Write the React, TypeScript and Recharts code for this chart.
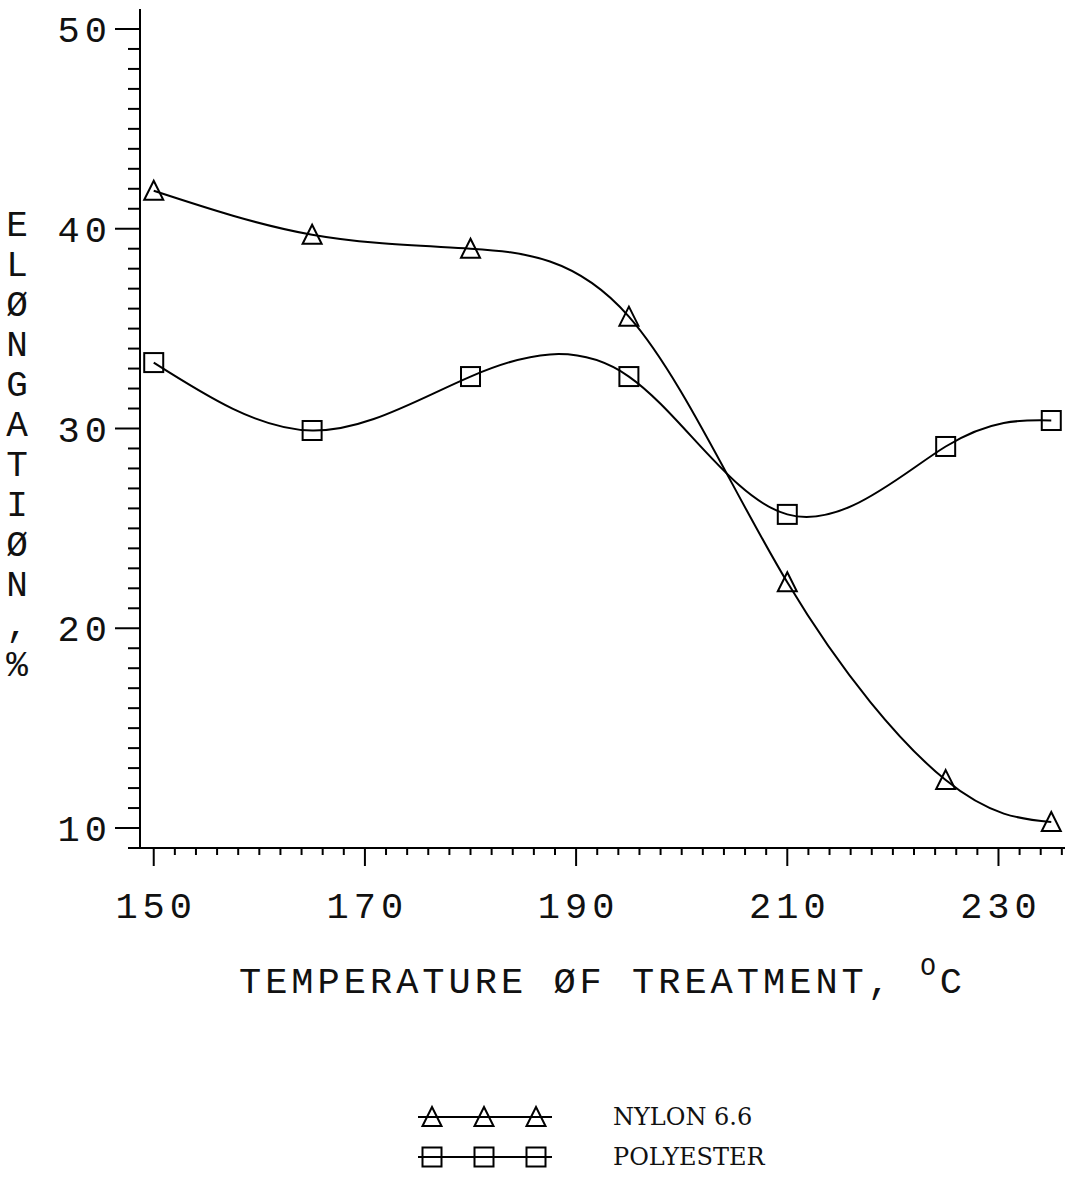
import React from 'react';
import { LineChart, Line, XAxis, YAxis, Legend, Label } from 'recharts';

// plotter-style lettering for axes, typewriter-style for the key
const PLOT_FONT = '"Liberation Mono", "DejaVu Sans Mono", monospace';
const KEY_FONT = '"DejaVu Serif", "Liberation Serif", serif';
const INK = '#111';

const temperatures = [150, 165, 180, 195, 210, 225, 235];
const nylonElongation = [41.9, 39.7, 39.0, 35.6, 22.3, 12.4, 10.3];
const polyesterElongation = [33.3, 29.9, 32.6, 32.6, 25.7, 29.1, 30.4];

const xLabelTicks = [150, 170, 190, 210, 230];
const yLabelTicks = [10, 20, 30, 40, 50];
const yTitleChars = ['E', 'L', 'Ø', 'N', 'G', 'A', 'T', 'I', 'Ø', 'N', ',', '%'];
const xTitle = 'TEMPERATURE ØF TREATMENT, ';
const xTitleUnitSup = 'O';
const xTitleUnit = 'C';

const series = [
  { key: 'nylon', name: 'NYLON 6.6', shape: 'triangle' },
  { key: 'polyester', name: 'POLYESTER', shape: 'square' },
];

const chartData = temperatures.map((t, i) => ({
  temp: t,
  nylon: nylonElongation[i],
  polyester: polyesterElongation[i],
}));

const range = (from: number, to: number, step: number) => {
  const out: number[] = [];
  for (let v = from; v <= to; v += step) out.push(v);
  return out;
};

// minor tick every 2 degrees, every 1 %
const xTicks = range(150, 236, 2);
const yTicks = range(9, 50, 1);

const Marker = ({ shape, cx, cy }: { shape: string; cx: number; cy: number }) => {
  if (shape === 'triangle') {
    return (
      <path
        d={`M${cx},${cy - 10} L${cx + 9.5},${cy + 9} L${cx - 9.5},${cy + 9} Z`}
        fill="none"
        stroke="#000"
        strokeWidth={2}
      />
    );
  }
  return <rect x={cx - 9.5} y={cy - 9.5} width={19} height={19} fill="none" stroke="#000" strokeWidth={2} />;
};

const renderDot = (shape: string) => (p: any) => (
  <Marker key={`${shape}-${p.index}`} shape={shape} cx={p.cx} cy={p.cy} />
);

const XTick = ({ x, y, payload }: any) => {
  const major = xLabelTicks.includes(payload.value);
  return (
    <g>
      <line x1={x} y1={y} x2={x} y2={y + (major ? 18 : 7)} stroke="#000" strokeWidth={2} />
      {major && (
        <text
          x={x}
          y={y + 70}
          dx={2.5}
          textAnchor="middle"
          fontFamily={PLOT_FONT}
          fontSize={37}
          letterSpacing={5}
          fill={INK}
        >
          {payload.value}
        </text>
      )}
    </g>
  );
};

const YTick = ({ x, y, payload }: any) => {
  const major = yLabelTicks.includes(payload.value);
  return (
    <g>
      <line x1={x - (major ? 25 : 12)} y1={y} x2={x} y2={y} stroke="#000" strokeWidth={2} />
      {major && (
        <text
          x={x - 28}
          y={y + 13}
          textAnchor="end"
          fontFamily={PLOT_FONT}
          fontSize={37}
          letterSpacing={5}
          fill={INK}
        >
          {payload.value}
        </text>
      )}
    </g>
  );
};

const XTitle = ({ viewBox }: any) => {
  const cx = viewBox.x + viewBox.width / 2;
  const base = viewBox.y + 145;
  return (
    <text x={cx} y={base} textAnchor="middle" fontFamily={PLOT_FONT} fontSize={37} letterSpacing={4} fill={INK}>
      {xTitle}
      <tspan dy={-18} fontSize={26}>{xTitleUnitSup}</tspan>
      <tspan dy={18}>{xTitleUnit}</tspan>
    </text>
  );
};

const YTitle = () => (
  <g>
    {yTitleChars.map((ch, i) => (
      <text
        key={i}
        x={17}
        y={226 + i * 40}
        textAnchor="middle"
        dominantBaseline="central"
        fontFamily={PLOT_FONT}
        fontSize={36}
        fill={INK}
      >
        {ch}
      </text>
    ))}
  </g>
);

const KeyContent = ({ payload }: any) => (
  <div>
    {(payload || []).map((entry: any) => {
      const s = series.find((item) => item.name === entry.value);
      return (
        <div key={entry.value} style={{ display: 'flex', alignItems: 'center', height: 40 }}>
          <svg width={140} height={26}>
            <line x1={3} x2={137} y1={13} y2={13} stroke="#000" strokeWidth={2} />
            {[17, 69, 121].map((cx) => (
              <Marker key={cx} shape={s ? s.shape : 'square'} cx={cx} cy={13} />
            ))}
          </svg>
          <span style={{ marginLeft: 58, fontFamily: KEY_FONT, fontSize: 24, color: INK }}>{entry.value}</span>
        </div>
      );
    })}
  </div>
);

export default function App() {
  return (
    <div style={{ position: 'absolute', left: 0, top: 0, width: 1071, height: 1177, background: '#fff' }}>
      {/* bottom margin leaves room for the key, whose 80px Recharts also reserves */}
      <LineChart width={1071} height={1177} data={chartData} margin={{ top: 9, right: 6, left: 0, bottom: 189 }}>
        <XAxis
          dataKey="temp"
          type="number"
          domain={[148.7, 236.3]}
          allowDataOverflow
          ticks={xTicks}
          interval={0}
          height={60}
          tickSize={0}
          tickMargin={0}
          tickLine={false}
          axisLine={{ stroke: '#000', strokeWidth: 2 }}
          tick={<XTick />}
        >
          <Label content={<XTitle />} />
        </XAxis>
        <YAxis
          type="number"
          domain={[9, 51]}
          allowDataOverflow
          ticks={yTicks}
          interval={0}
          width={140}
          tickSize={0}
          tickMargin={0}
          tickLine={false}
          axisLine={{ stroke: '#000', strokeWidth: 2 }}
          tick={<YTick />}
        >
          <Label content={<YTitle />} />
        </YAxis>
        <Legend
          layout="vertical"
          align="center"
          verticalAlign="bottom"
          content={<KeyContent />}
          wrapperStyle={{ left: 415, top: 1097, width: 380 }}
        />
        {series.map((s) => (
          <Line
            key={s.key}
            dataKey={s.key}
            name={s.name}
            type="natural"
            stroke="#000"
            strokeWidth={2}
            dot={renderDot(s.shape)}
            activeDot={false}
            isAnimationActive={false}
          />
        ))}
      </LineChart>
    </div>
  );
}
